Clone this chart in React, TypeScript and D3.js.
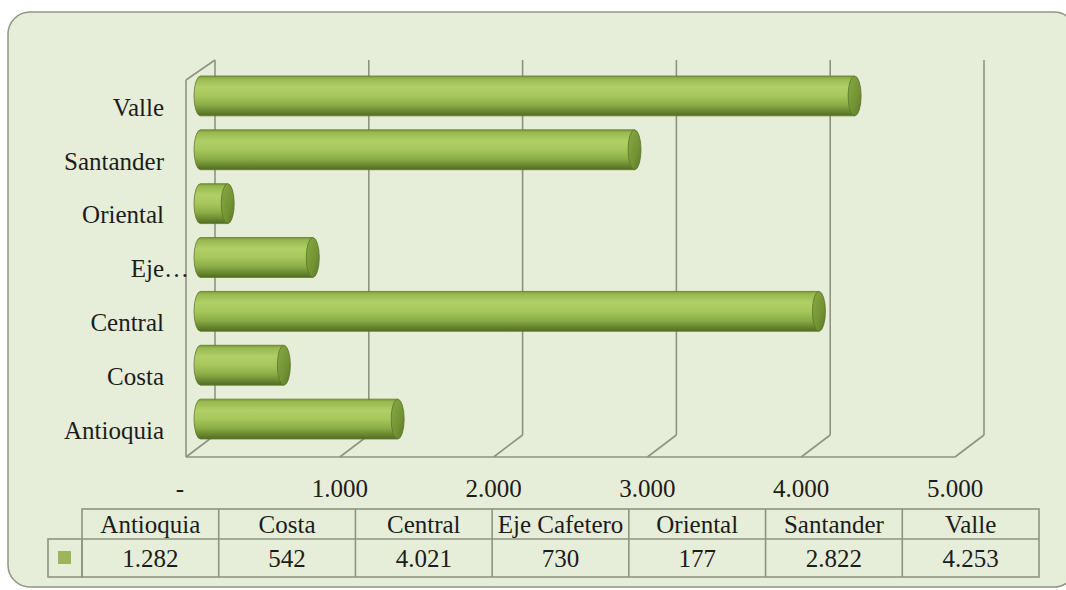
import React from "react";
import * as d3 from "d3";

const categories = ["Antioquia", "Costa", "Central", "Eje Cafetero", "Oriental", "Santander", "Valle"];
const values = [1282, 542, 4021, 730, 177, 2822, 4253];
const tickValues = [0, 1000, 2000, 3000, 4000, 5000];

const W = 1066;
const H = 590;
const FONT = "Liberation Serif, Times New Roman, serif";

const esLocale = d3.formatLocale({ decimal: ",", thousands: ".", grouping: [3], currency: ["", ""] });
const fmt = esLocale.format(",d");
const tickFmt = (v: number) => (v === 0 ? "-" : fmt(v));

export default function App() {
  const x0 = 186, x1 = 955, yTop = 80, yBot = 457;
  const dX = 29, dY = -22;
  const x = d3.scaleLinear().domain([0, 5000]).range([x0, x1]);
  const y = d3
    .scaleBand<string>()
    .domain([...categories].reverse())
    .range([yTop, yBot])
    .paddingInner(0.26)
    .paddingOuter(0.13);
  const bw = y.bandwidth();
  const midX = dX / 2, midY = dY / 2;
  const rx = 6.5;

  const col = d3.scaleBand<string>().domain(categories).range([82, 1039]);
  const tTop = 509, tMid = 539, tBot = 577, legL = 48;

  const grid = "#8d9582";
  const txt = { fontFamily: FONT, fontSize: 25, fill: "#1c1c1c" } as const;

  return (
    <svg width={W} height={H} style={{ position: "absolute", left: 0, top: 0, background: "#fff" }}>
      <defs>
        <linearGradient id="body" x1="0" y1="0" x2="0" y2="1">
          <stop offset="0" stopColor="#7c9a3a" />
          <stop offset="0.07" stopColor="#98b94f" />
          <stop offset="0.28" stopColor="#b0cf66" />
          <stop offset="0.5" stopColor="#a7c75c" />
          <stop offset="0.72" stopColor="#8cad47" />
          <stop offset="0.9" stopColor="#66852e" />
          <stop offset="1" stopColor="#526c25" />
        </linearGradient>
        <linearGradient id="cap" x1="0" y1="0" x2="1" y2="1">
          <stop offset="0" stopColor="#8aa944" />
          <stop offset="0.6" stopColor="#739334" />
          <stop offset="1" stopColor="#5b7829" />
        </linearGradient>
      </defs>
      <rect x={8} y={12} width={1068} height={575} rx={22} ry={22} fill="#e6edd8" stroke="#8f9884" strokeWidth={1.5} />

      {tickValues.map((t) => (
        <g key={"g" + t}>
          <line x1={x(t) + dX} x2={x(t) + dX} y1={60} y2={yBot + dY} stroke={grid} strokeWidth={1.6} />
          <line x1={x(t) + dX} x2={x(t)} y1={yBot + dY} y2={yBot} stroke={grid} strokeWidth={1.6} />
        </g>
      ))}
      <line x1={x0} x2={x1} y1={yBot} y2={yBot} stroke={grid} strokeWidth={1.6} />
      <line x1={x0} x2={x0} y1={yTop} y2={yBot} stroke={grid} strokeWidth={1.6} />
      <line x1={x0} x2={x0 + dX} y1={yTop} y2={60} stroke={grid} strokeWidth={1.6} />

      {categories.map((c, i) => {
        const bx0 = x(0) + midX;
        const bx1 = x(values[i]) + midX;
        const by0 = (y(c) as number) + midY;
        const by1 = by0 + bw;
        const ry = bw / 2;
        const d = `M${bx0},${by0} L${bx1},${by0} L${bx1},${by1} L${bx0},${by1} A${rx},${ry} 0 0 1 ${bx0},${by0} Z`;
        return (
          <g key={c}>
            <path d={d} fill="url(#body)" stroke="#5f7b2b" strokeWidth={0.8} />
            <ellipse cx={bx1} cy={by0 + ry} rx={rx} ry={ry} fill="url(#cap)" stroke="#5a7528" strokeWidth={0.8} />
          </g>
        );
      })}

      {categories.map((c) => {
        const cy = (y(c) as number) + bw / 2;
        const long = c.length > 10;
        return (
          <text key={"l" + c} x={long ? 189 : 164} y={cy} dy="0.35em" textAnchor="end" {...txt}>
            {long ? c.split(" ")[0] + "…" : c}
          </text>
        );
      })}

      {tickValues.map((t) => (
        <text key={"t" + t} x={t === 0 ? x(t) - 6 : x(t)} y={488} dy="0.35em" textAnchor="middle" {...txt}>
          {tickFmt(t)}
        </text>
      ))}

      <g stroke={grid} strokeWidth={1.6} fill="none">
        <rect x={82} y={tTop} width={1039 - 82} height={tBot - tTop} />
        <rect x={legL} y={tMid} width={82 - legL} height={tBot - tMid} />
        <line x1={82} x2={1039} y1={tMid} y2={tMid} />
        {categories.slice(1).map((c) => (
          <line key={"v" + c} x1={col(c)} x2={col(c)} y1={tTop} y2={tBot} />
        ))}
      </g>
      <rect x={58} y={551} width={13} height={13} fill="#9cb55c" />
      {categories.map((c, i) => (
        <g key={"tb" + c}>
          <text x={(col(c) as number) + col.bandwidth() / 2} y={(tTop + tMid) / 2} dy="0.35em" textAnchor="middle" {...txt}>
            {c}
          </text>
          <text x={(col(c) as number) + col.bandwidth() / 2} y={(tMid + tBot) / 2} dy="0.35em" textAnchor="middle" {...txt}>
            {fmt(values[i])}
          </text>
        </g>
      ))}
    </svg>
  );
}
